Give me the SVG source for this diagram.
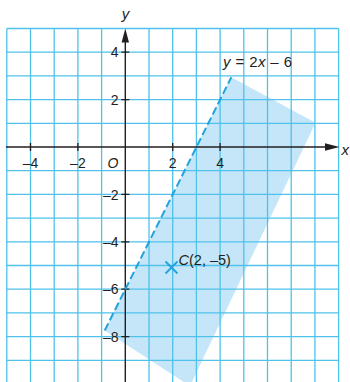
<svg xmlns="http://www.w3.org/2000/svg" width="350" height="382" viewBox="0 0 350 382">
<defs>
<style>
.grid{stroke:#4fc1ea;stroke-width:1.3;fill:none}
.axis{stroke:#231f20;stroke-width:1.4;fill:none}
.tick{stroke:#231f20;stroke-width:1.3}
.ah{fill:#231f20}
.t{font-family:"Liberation Sans",Arial,sans-serif;font-size:14px;fill:#231f20}
.m{text-anchor:middle}
.e{text-anchor:end}
.i{font-style:italic}
.shade{fill:#c4e6f8}
.dash{stroke:#22a3dc;stroke-width:2;stroke-dasharray:8 3.5;fill:none}
.cross{stroke:#22a3dc;stroke-width:1.8}
</style>
</defs>
<rect width="350" height="382" fill="#ffffff"/>
<g id="region">
<polygon class="shade" points="231.3,77.3 315.5,122.8 190,386 104.7,330.5"/>
</g>
<g id="grid" class="grid">
<path d="M6.8 28.5V382M30.5 28.5V382M54.2 28.5V382M77.9 28.5V382M101.6 28.5V382M149 28.5V382M172.7 28.5V382M196.4 28.5V382M220.1 28.5V382M243.8 28.5V382M267.5 28.5V382M291.2 28.5V382M314.9 28.5V382M338.6 28.5V382"/>
<path d="M6.8 28.5H338.6M6.8 52.2H338.6M6.8 75.9H338.6M6.8 99.6H338.6M6.8 123.3H338.6M6.8 170.7H338.6M6.8 194.4H338.6M6.8 218.1H338.6M6.8 241.8H338.6M6.8 265.5H338.6M6.8 289.2H338.6M6.8 312.9H338.6M6.8 336.6H338.6M6.8 360.3H338.6"/>
</g>
<g id="axes">
<path class="axis" d="M6 147H328M125.3 382V40"/>
<polygon class="ah" points="339.5,147 325,143.3 325,150.7"/>
<polygon class="ah" points="125.3,28.5 121.6,42.5 129,42.5"/>
<path class="tick" d="M30.5 143V151M77.9 143V151M172.7 143V151M220.1 143V151M121.3 52.2H129.3M121.3 99.6H129.3M121.3 194.4H129.3M121.3 241.8H129.3M121.3 289.2H129.3M121.3 336.6H129.3"/>
</g>
<g id="labels">
<text class="t m" x="30.5" y="168">–4</text>
<text class="t m" x="77.9" y="168">–2</text>
<text class="t m i" x="113" y="168">O</text>
<text class="t m" x="172.7" y="168">2</text>
<text class="t m" x="220.1" y="168">4</text>
<text class="t e" x="118.5" y="57.4">4</text>
<text class="t e" x="118.5" y="104.8">2</text>
<text class="t e" x="118.5" y="199.6">–2</text>
<text class="t e" x="118.5" y="247">–4</text>
<text class="t e" x="118.5" y="294.4">–6</text>
<text class="t e" x="118.5" y="341.8">–8</text>
<text class="t m i" x="125.5" y="18.5" style="font-size:15px">y</text>
<text class="t i" x="341.5" y="155" style="font-size:15px">x</text>
</g>
<g id="line">
<path class="dash" d="M104.7 330.5L231.3 77.3"/>
<text class="t" x="223" y="67" style="font-size:15px" textLength="69"><tspan class="i">y</tspan> = 2<tspan class="i">x</tspan> – 6</text>
</g>
<g id="pointC">
<path class="cross" d="M165.5 261.5L177.5 273.5M177.5 261.5L165.5 273.5"/>
<text class="t" x="178.5" y="264.5" style="font-size:14.5px"><tspan class="i">C</tspan>(2, –5)</text>
</g>
</svg>
